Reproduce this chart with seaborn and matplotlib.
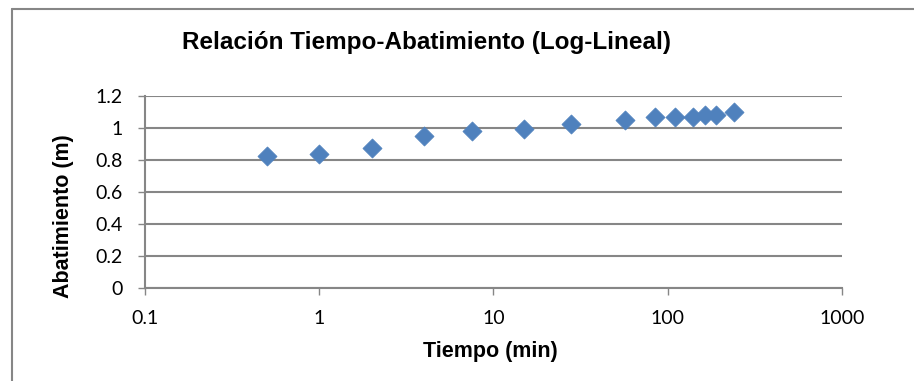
import matplotlib
matplotlib.use("Agg")
import matplotlib.pyplot as plt
import matplotlib.ticker as mticker
from matplotlib.lines import Line2D
import pandas as pd
import seaborn as sns

# Pumping test data
tiempo_min = [0.5, 1, 2, 4, 7.5, 15, 28, 57, 85, 110, 140, 165, 190, 240]
abatimiento_m = [0.827, 0.840, 0.874, 0.949, 0.980, 0.994, 1.023, 1.052, 1.067,
                 1.067, 1.067, 1.080, 1.080, 1.098]
y_ticks = [0, 0.2, 0.4, 0.6, 0.8, 1, 1.2]
y_tick_labels = ["0", "0.2", "0.4", "0.6", "0.8", "1", "1.2"]
x_ticks = [0.1, 1, 10, 100, 1000]
x_tick_labels = ["0.1", "1", "10", "100", "1000"]

df = pd.DataFrame({"Tiempo (min)": tiempo_min, "Abatimiento (m)": abatimiento_m})

sns.set_theme(style="white")
plt.rcParams["font.family"] = ["Liberation Sans", "DejaVu Sans"]

grey = "#868686"
blue = "#4F81BD"

fig = plt.figure(figsize=(9.14, 3.81), dpi=100)
ax = fig.add_axes([0.1586, 0.244, 0.7624, 0.504])

sns.scatterplot(data=df, x="Tiempo (min)", y="Abatimiento (m)", marker="D",
                s=95, color=blue, edgecolor=blue, linewidth=0.5, ax=ax, zorder=3)

ax.set_xscale("log")
ax.set_xlim(0.1, 1000)
ax.set_ylim(0, 1.2)
ax.xaxis.set_major_locator(mticker.FixedLocator(x_ticks))
ax.xaxis.set_minor_locator(mticker.NullLocator())
ax.set_xticks(x_ticks)
ax.set_xticklabels(x_tick_labels)
ax.set_yticks(y_ticks)
ax.set_yticklabels(y_tick_labels)

ax.yaxis.grid(True, color=grey, linewidth=1.5)
ax.xaxis.grid(False)
ax.set_axisbelow(True)

for side in ["top", "right"]:
    ax.spines[side].set_visible(False)
for side in ["left", "bottom"]:
    ax.spines[side].set_color(grey)
    ax.spines[side].set_linewidth(1.5)

ax.tick_params(axis="both", which="major", direction="out", length=5, width=1,
               color=grey, labelsize=14, pad=11)
ax.tick_params(axis="x", bottom=True)
ax.tick_params(axis="y", left=True)
for lbl in ax.get_xticklabels() + ax.get_yticklabels():
    lbl.set_family(["Lato", "DejaVu Sans"])
    lbl.set_color("black")

ax.set_xlabel("")
ax.set_ylabel("")
fig.text(490 / 914, 1 - 352 / 381, "Tiempo (min)", ha="center", va="center",
         fontsize=15.5, fontweight="bold", color="black")
fig.text(64 / 914, 1 - 216 / 381, "Abatimiento (m)", ha="center", va="center",
         rotation=90, fontsize=15.5, fontweight="bold", color="black")
fig.text(426 / 914, 1 - 43 / 381, "Relación Tiempo-Abatimiento (Log-Lineal)",
         ha="center", va="center", fontsize=17.5, fontweight="bold", color="black")

# outer chart frame (left and top edges visible)
fig.add_artist(Line2D([11.5 / 914, 11.5 / 914], [0, 1 - 8.5 / 381],
                      transform=fig.transFigure, color=grey, linewidth=1.5))
fig.add_artist(Line2D([11.5 / 914, 1], [1 - 8.5 / 381, 1 - 8.5 / 381],
                      transform=fig.transFigure, color=grey, linewidth=1.5))

fig.savefig("out.png", dpi=100, facecolor="white")
